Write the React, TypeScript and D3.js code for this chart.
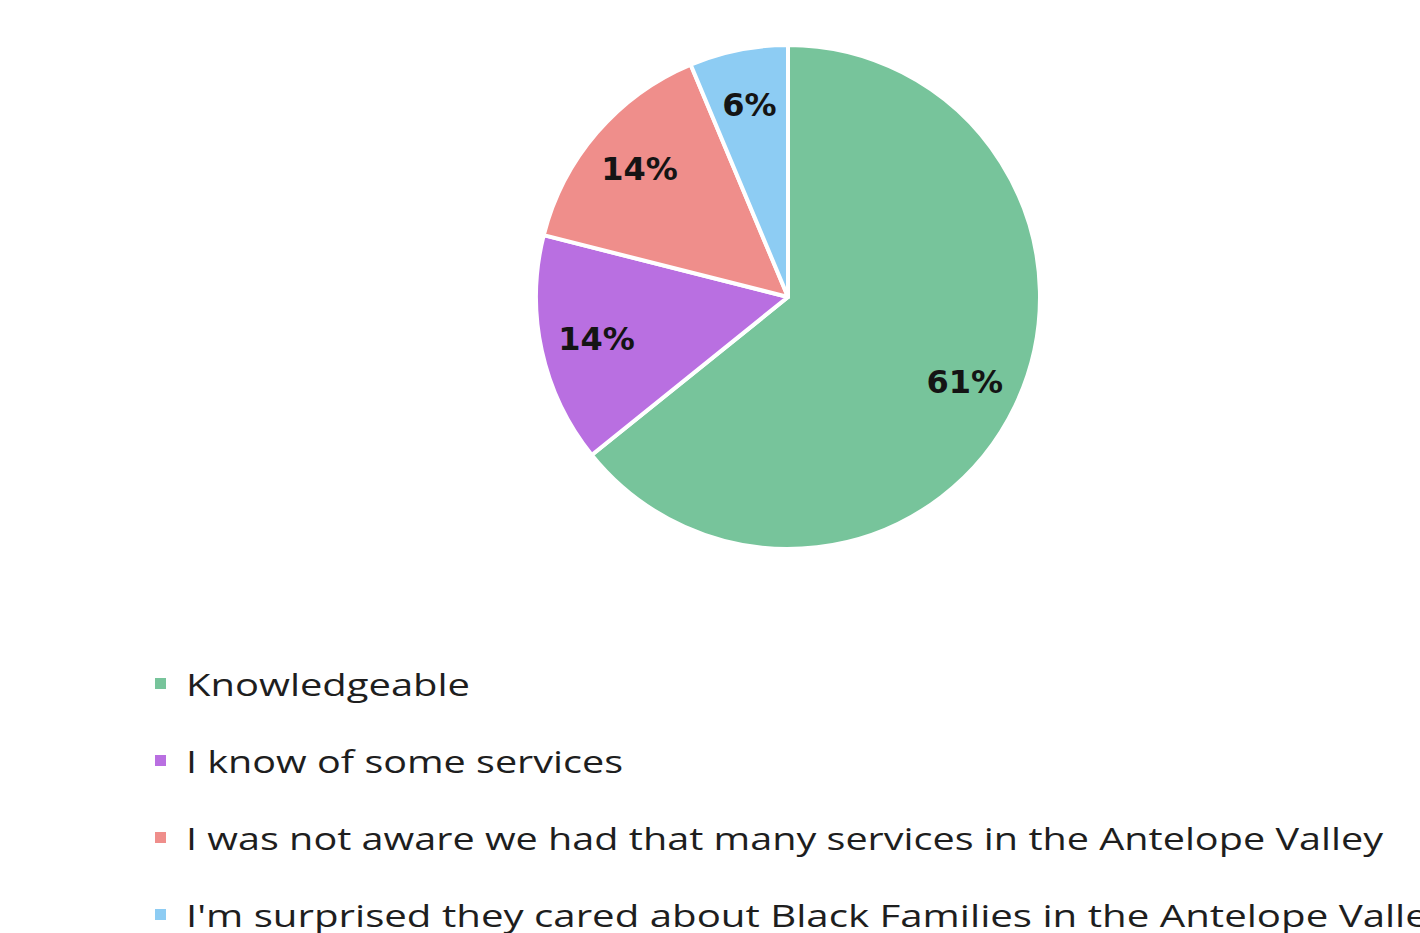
import React from "react";
import * as d3 from "d3";

const categories = [
  "Knowledgeable",
  "I know of some services",
  "I was not aware we had that many services in the Antelope Valley",
  "I'm surprised they cared about Black Families in the Antelope Valley",
];
const values = [61, 14, 14, 6];
const labels = ["61%", "14%", "14%", "6%"];
const colors = ["#77C49B", "#B96FE1", "#EF8E8B", "#8DCCF3"];
const legendWidths = [284, 437, 1197, 1262];

export default function App() {
  const W = 1420;
  const H = 933;
  const cx = 788;
  const cy = 297;
  const R = 252;

  const pie = d3.pie<number>().sort(null).value((d) => d);
  const arcs = pie(values);
  const arc = d3.arc<d3.PieArcDatum<number>>().innerRadius(0).outerRadius(R);
  const labelArc = d3
    .arc<d3.PieArcDatum<number>>()
    .innerRadius(196)
    .outerRadius(196);

  const legendY = d3
    .scalePoint<number>()
    .domain(d3.range(categories.length))
    .range([684, 915]);

  return (
    <svg
      width={W}
      height={H}
      style={{ position: "absolute", left: 0, top: 0, display: "block", background: "#fff" }}
    >
      <g transform={`translate(${cx},${cy})`}>
        {arcs.map((a, i) => (
          <path
            key={i}
            d={arc(a) || ""}
            fill={colors[i]}
            stroke="#fff"
            strokeWidth={4}
            strokeLinejoin="round"
          />
        ))}
        {arcs.map((a, i) => {
          const [x, y] = labelArc.centroid(a);
          return (
            <text
              key={"l" + i}
              x={x}
              y={y}
              textAnchor="middle"
              dominantBaseline="central"
              fontFamily="'DejaVu Sans', sans-serif"
              fontWeight="bold"
              fontSize={32}
              fill="#141414"
            >
              {labels[i]}
            </text>
          );
        })}
      </g>
      <g>
        {categories.map((c, i) => {
          const y = legendY(i) as number;
          return (
            <g key={"g" + i}>
              <rect x={155} y={y - 6} width={11} height={11} fill={colors[i]} />
              <text
                x={186}
                y={y}
                dominantBaseline="central"
                fontFamily="'Open Sans', sans-serif"
                fontSize={31}
                fill="#1e1e1e"
                textLength={legendWidths[i]}
                lengthAdjust="spacingAndGlyphs"
              >
                {c}
              </text>
            </g>
          );
        })}
      </g>
    </svg>
  );
}
